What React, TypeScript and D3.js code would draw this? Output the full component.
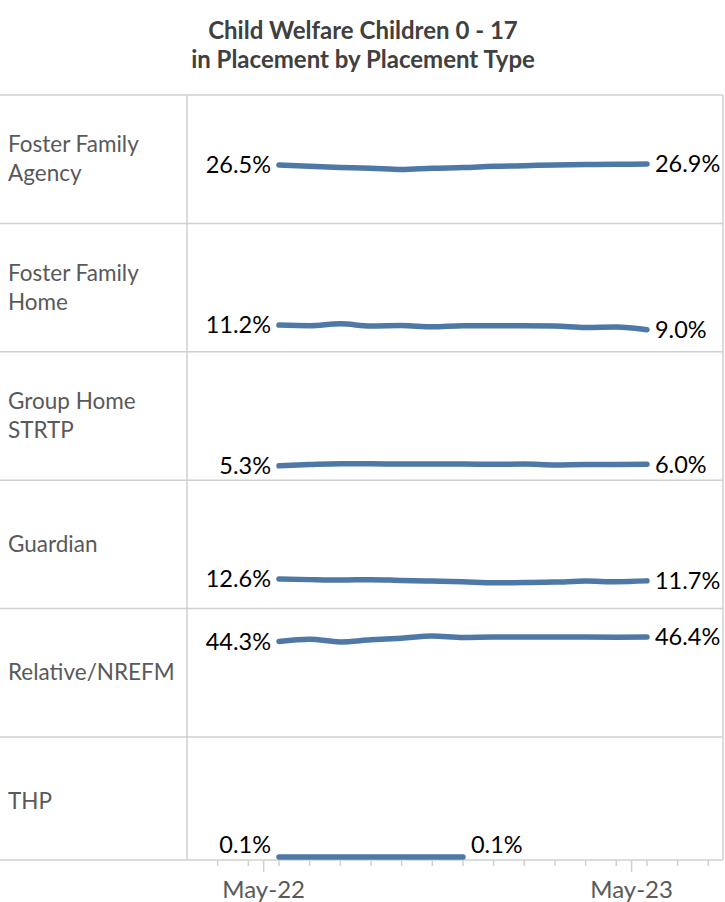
import React, { useEffect, useRef } from 'react';
import * as d3 from 'd3';

// monthly points, May-22 .. May-23
const months = ['May-22', 'Jun-22', 'Jul-22', 'Aug-22', 'Sep-22', 'Oct-22', 'Nov-22', 'Dec-22', 'Jan-23', 'Feb-23', 'Mar-23', 'Apr-23', 'May-23'];
const categories = ['Foster Family Agency', 'Foster Family Home', 'Group Home STRTP', 'Guardian', 'Relative/NREFM', 'THP'];

const fosterFamilyAgency = [26.5, 25.8, 25.3, 24.9, 24.3, 24.9, 25.2, 25.8, 26.1, 26.5, 26.7, 26.8, 26.9];
const fosterFamilyHome = [11.2, 10.9, 11.8, 10.8, 11.0, 10.4, 10.9, 10.9, 10.9, 10.8, 10.1, 10.3, 9.0];
const groupHome = [5.3, 5.9, 6.3, 6.3, 6.1, 6.1, 6.1, 6.0, 6.1, 5.7, 5.9, 5.9, 6.0];
const guardian = [12.6, 12.3, 12.1, 12.3, 11.9, 11.6, 11.3, 10.8, 10.9, 11.1, 11.6, 11.3, 11.7];
const relative = [44.3, 45.4, 44.1, 45.1, 45.9, 46.9, 46.2, 46.4, 46.4, 46.4, 46.4, 46.3, 46.4];
const thp = [0.1, 0.1, 0.1, 0.1, 0.1, 0.1, 0.1, null, null, null, null, null, null];

const seriesValues: (number | null)[][] = [fosterFamilyAgency, fosterFamilyHome, groupHome, guardian, relative, thp];
const tickLabels = ['May-22', 'May-23'];

const titleLines = ['Child Welfare Children 0 - 17', 'in Placement by Placement Type'];

export default function App() {
  const svgRef = useRef<SVGSVGElement>(null);

  useEffect(() => {
    if (!svgRef.current) return;
    const svg = d3.select(svgRef.current);
    svg.selectAll('*').remove();

    const width = 725;
    const height = 902;
    const font = 'Lato, "Open Sans", sans-serif';
    const gridColor = '#d0d0d0';
    const lineColor = '#4e79a7';

    const plotTop = 95;
    const plotBottom = 860;
    const labelColW = 187;
    const plotRight = 723;
    const rowH = 128.4;

    svg.attr('width', width).attr('height', height);

    // title
    svg.append('g')
      .selectAll('text')
      .data(titleLines)
      .enter().append('text')
      .attr('x', 363)
      .attr('y', (_, i) => 39 + i * 29)
      .attr('text-anchor', 'middle')
      .style('font-family', font)
      .style('font-weight', 'bold')
      .style('font-size', '24px')
      .style('fill', '#404040')
      .text(d => d);

    const x = d3.scaleLinear().domain([-3, 14.48]).range([labelColW, plotRight]);

    // grid
    const grid = svg.append('g').attr('stroke', gridColor).attr('stroke-width', 1.5);
    const rowTops = categories.map((_, i) => plotTop + i * rowH);
    grid.selectAll('.hline')
      .data([...rowTops, plotBottom])
      .enter().append('line')
      .attr('x1', 0).attr('x2', plotRight)
      .attr('y1', d => d).attr('y2', d => d);
    grid.append('line').attr('x1', labelColW).attr('x2', labelColW).attr('y1', plotTop).attr('y2', plotBottom);
    grid.append('line').attr('x1', plotRight).attr('x2', plotRight).attr('y1', plotTop).attr('y2', plotBottom);

    // axis ticks
    const minorTicks = d3.range(-2, 15);
    const majorTicks = tickLabels.map(t => months.indexOf(t) - 0.5);
    const ticks = svg.append('g').attr('stroke', gridColor).attr('stroke-width', 1.5);
    ticks.selectAll('.minor')
      .data(minorTicks)
      .enter().append('line')
      .attr('x1', d => x(d)).attr('x2', d => x(d))
      .attr('y1', plotBottom).attr('y2', plotBottom + 6);
    ticks.selectAll('.major')
      .data(majorTicks)
      .enter().append('line')
      .attr('x1', d => x(d)).attr('x2', d => x(d))
      .attr('y1', plotBottom).attr('y2', plotBottom + 12);

    svg.append('g')
      .selectAll('text')
      .data(tickLabels)
      .enter().append('text')
      .attr('x', d => x(months.indexOf(d) - 0.5))
      .attr('y', 898)
      .attr('text-anchor', 'middle')
      .style('font-family', font)
      .style('font-size', '24px')
      .style('fill', '#595959')
      .text(d => d);

    // panels
    categories.forEach((cat, i) => {
      const top = rowTops[i];
      const y = d3.scaleLinear().domain([-1.63, 60.1]).range([top + rowH, top]);
      const yc = (v: number) => Math.min(y(v), plotBottom - 3);

      // category label with word wrap
      const words = cat.split(' ');
      const lines: string[] = [];
      const probe = svg.append('text').style('font-family', font).style('font-size', '22.5px');
      let cur = '';
      words.forEach(w => {
        const test = cur ? cur + ' ' + w : w;
        probe.text(test);
        if ((probe.node() as SVGTextElement).getComputedTextLength() > 170 && cur) {
          lines.push(cur);
          cur = w;
        } else {
          cur = test;
        }
      });
      lines.push(cur);
      probe.remove();

      const lh = 29;
      const midY = top + 64;
      svg.append('g')
        .selectAll('text')
        .data(lines)
        .enter().append('text')
        .attr('x', 8)
        .attr('y', (_, k) => midY + (k - (lines.length - 1) / 2) * lh)
        .attr('dy', '0.35em')
        .style('font-family', font)
        .style('font-size', '22.5px')
        .style('fill', '#595959')
        .text(d => d);

      const vals = seriesValues[i];
      const pts = vals
        .map((v, k) => ({ k, v }))
        .filter(d => d.v !== null) as { k: number; v: number }[];

      const line = d3.line<{ k: number; v: number }>()
        .x(d => x(d.k))
        .y(d => yc(d.v))
        .curve(d3.curveMonotoneX);

      svg.append('path')
        .datum(pts)
        .attr('d', line)
        .attr('fill', 'none')
        .attr('stroke', lineColor)
        .attr('stroke-width', 5.5)
        .attr('stroke-linecap', 'round')
        .attr('stroke-linejoin', 'round');

      const first = pts[0];
      const last = pts[pts.length - 1];
      const labelY = (v: number) => Math.min(y(v), plotBottom - 15);
      const endLabels = [
        { d: first, x: x(first.k) - 8, anchor: 'end' },
        { d: last, x: x(last.k) + 8, anchor: 'start' },
      ];
      svg.append('g')
        .selectAll('text')
        .data(endLabels)
        .enter().append('text')
        .attr('x', d => d.x)
        .attr('y', d => labelY(d.d.v))
        .attr('dy', '0.35em')
        .attr('text-anchor', d => d.anchor)
        .style('font-family', font)
        .style('font-size', '23.5px')
        .style('fill', '#000')
        .text(d => d3.format('.1f')(d.d.v) + '%');
    });
  }, []);

  return (
    <div>
      <svg ref={svgRef} style={{ position: 'absolute', left: 0, top: 0 }}></svg>
    </div>
  );
}
